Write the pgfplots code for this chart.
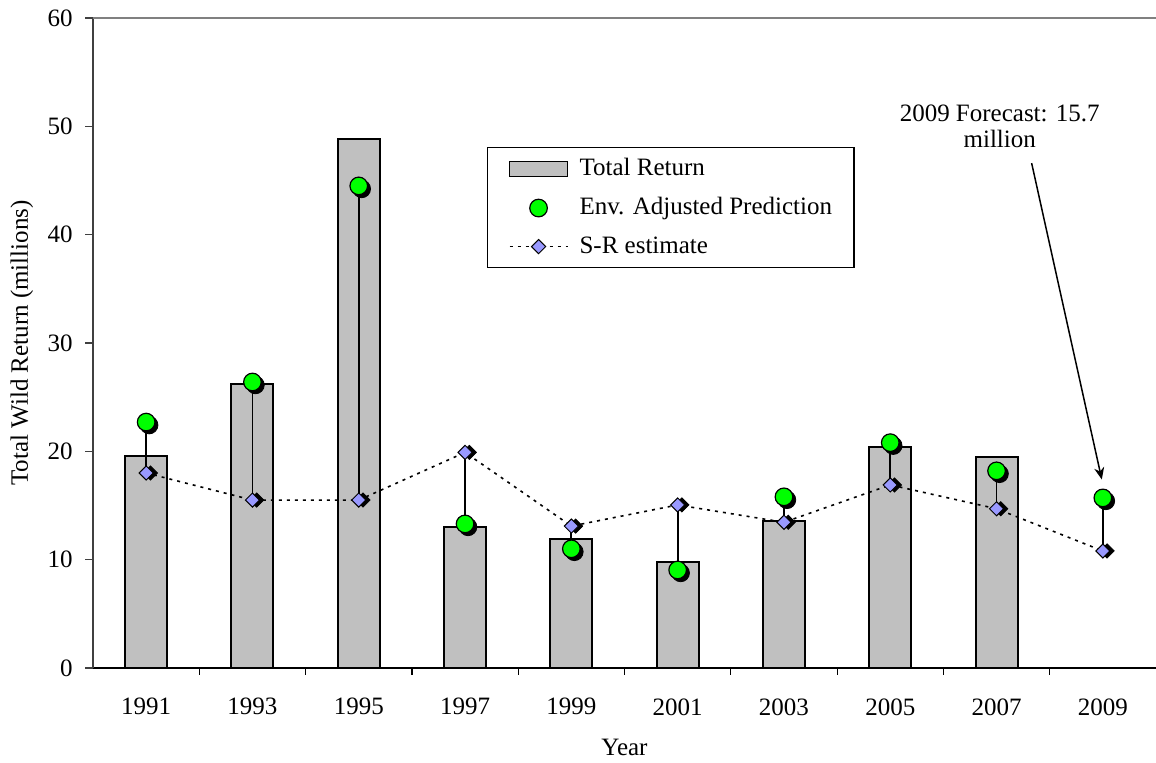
\documentclass[12pt,border=0pt]{standalone}
\usepackage{fontspec}
\setmainfont{Liberation Serif}
\usepackage{pgfplots}
\pgfplotsset{compat=1.18}
\usetikzlibrary{arrows.meta}
\definecolor{barfill}{RGB}{192,192,192}
\definecolor{ptgreen}{RGB}{0,255,0}
\definecolor{srblue}{RGB}{153,153,255}
\newcommand{\chartfont}{\fontsize{12.5}{14.5}\selectfont}
\begin{document}
\begin{tikzpicture}
\begin{axis}[name=ax, scale only axis, width=531.5pt, height=325pt,
  xmin=-0.5, xmax=9.5, ymin=0, ymax=60,
  axis x line*=bottom, axis y line*=left,
  x axis line style={black, line width=0.75pt},
  y axis line style={black!75, line width=0.75pt},
  xtick={0,...,9},
  xticklabels={1991,1993,1995,1997,1999,2001,2003,2005,2007,2009},
  minor xtick={0.5,1.5,...,8.5},
  ytick={0,10,...,60},
  tick align=outside,
  major tick length=4pt, minor tick length=3.5pt,
  every major x tick/.style={draw=none},
  every minor x tick/.style={black, line width=0.6pt},
  every major y tick/.style={black!75, line width=0.6pt},
  /pgf/number format/assume math mode=true,
  tick label style={font=\chartfont},
  xticklabel style={yshift=-7pt},
  yticklabel style={xshift=-2pt},
  xlabel={Year}, ylabel={Total Wild Return (millions)},
  label style={font=\chartfont},
  xlabel style={at={(axis description cs:0.5,-0.1215)}, anchor=center},
  ylabel style={at={(axis description cs:-0.0668,0.5)}, anchor=center},
  clip=false,
  legend cell align=left,
  legend style={at={(rel axis cs:0.3706,0.8015)}, anchor=north west,
    draw=black, line width=0.6pt, fill=white, font=\chartfont,
    cells={anchor=west},
    row sep=5pt, inner xsep=7pt, inner ysep=3.5pt,
    /tikz/column 2/.style={nodes={inner xsep=4pt}, anchor=west}},
]
\draw[gray, line width=0.75pt] (rel axis cs:0,1) -- (rel axis cs:1,1);

\addlegendimage{legend image code/.code={\path[draw=none,fill=none] (0pt,-4pt) rectangle (35pt,4pt); \draw[fill=barfill,draw=black,line width=0.9pt] (4pt,-3.75pt) rectangle (33pt,3.75pt);}}
\addlegendentry{Total Return}
\addlegendimage{legend image code/.code={\path[draw=none,fill=none] (0pt,-4pt) rectangle (35pt,4pt); \path[mark=*, mark size=4.4pt, mark options={fill=ptgreen,draw=black,line width=0.6pt}] plot coordinates {(18.5pt,0pt)};}}
\addlegendentry{Env. Adjusted Prediction\hspace{4pt}}
\addlegendimage{legend image code/.code={\path[draw=none,fill=none] (0pt,-4pt) rectangle (35pt,4pt); \draw[black, line width=0.75pt, dash pattern=on 1.5pt off 2.5pt] (4pt,0pt) -- (33pt,0pt); \path[mark=square*, mark size=2.5pt, mark options={rotate=45,fill=srblue,draw=black,solid,line width=0.5pt}] plot coordinates {(18.5pt,0pt)};}}
\addlegendentry{S-R estimate}

% bars: total return
\addplot[ybar, bar width=21pt, fill=barfill, draw=black, line width=1pt, forget plot]
  coordinates {(0,19.6)(1,26.2)(2,48.8)(3,13.05)(4,11.9)(5,9.8)(6,13.6)(7,20.4)(8,19.45)};

% connectors
\addplot[black, line width=0.9pt, unbounded coords=jump, forget plot]
  coordinates {(0,22.7)(0,18.0)(0,nan)(1,26.4)(1,15.5)(1,nan)(2,44.5)(2,15.5)(2,nan)
  (3,13.3)(3,19.9)(3,nan)(4,11.0)(4,13.1)(4,nan)(5,9.05)(5,15.05)(5,nan)
  (6,15.8)(6,13.45)(6,nan)(7,20.8)(7,16.9)(7,nan)(8,18.2)(8,14.7)(8,nan)(9,15.7)(9,10.8)};

% S-R estimate line
\addplot[black, line width=0.8pt, dash pattern=on 1.5pt off 2.5pt, forget plot]
  coordinates {(0,18.0)(1,15.5)(2,15.5)(3,19.9)(4,13.1)(5,15.05)(6,13.45)(7,16.9)(8,14.7)(9,10.8)};
% S-R shadows
\addplot[only marks, mark=square*, mark size=2.5pt, forget plot,
  mark options={rotate=45, fill=black, draw=black, xshift=1.5pt, yshift=-1.5pt}]
  coordinates {(0,18.0)(1,15.5)(2,15.5)(3,19.9)(4,13.1)(5,15.05)(6,13.45)(7,16.9)(8,14.7)(9,10.8)};
% S-R markers
\addplot[only marks, mark=square*, mark size=2.5pt, forget plot,
  mark options={rotate=45, fill=srblue, draw=black, line width=0.5pt}]
  coordinates {(0,18.0)(1,15.5)(2,15.5)(3,19.9)(4,13.1)(5,15.05)(6,13.45)(7,16.9)(8,14.7)(9,10.8)};

% green shadows
\addplot[only marks, mark=*, mark size=4.4pt, forget plot,
  mark options={fill=black, draw=black, xshift=1.5pt, yshift=-1.5pt}]
  coordinates {(0,22.7)(1,26.4)(2,44.5)(3,13.3)(4,11.0)(5,9.05)(6,15.8)(7,20.8)(8,18.2)(9,15.7)};
% green markers
\addplot[only marks, mark=*, mark size=4.4pt, forget plot,
  mark options={fill=ptgreen, draw=black, line width=0.6pt}]
  coordinates {(0,22.7)(1,26.4)(2,44.5)(3,13.3)(4,11.0)(5,9.05)(6,15.8)(7,20.8)(8,18.2)(9,15.7)};

\node[align=center, font=\fontsize{12.5}{13}\selectfont] at (axis cs:8.03,50) {2009 Forecast: 15.7\\million};
\draw[-{Stealth[length=6pt,width=5pt]}, line width=0.75pt] (axis cs:8.33,46.6) -- (axis cs:8.99,17.4);
\end{axis}
\pgfresetboundingbox
\path ([shift={(-46.5pt,-47pt)}]ax.south west) rectangle ([shift={(0pt,9pt)}]ax.north east);
\end{tikzpicture}
\end{document}
